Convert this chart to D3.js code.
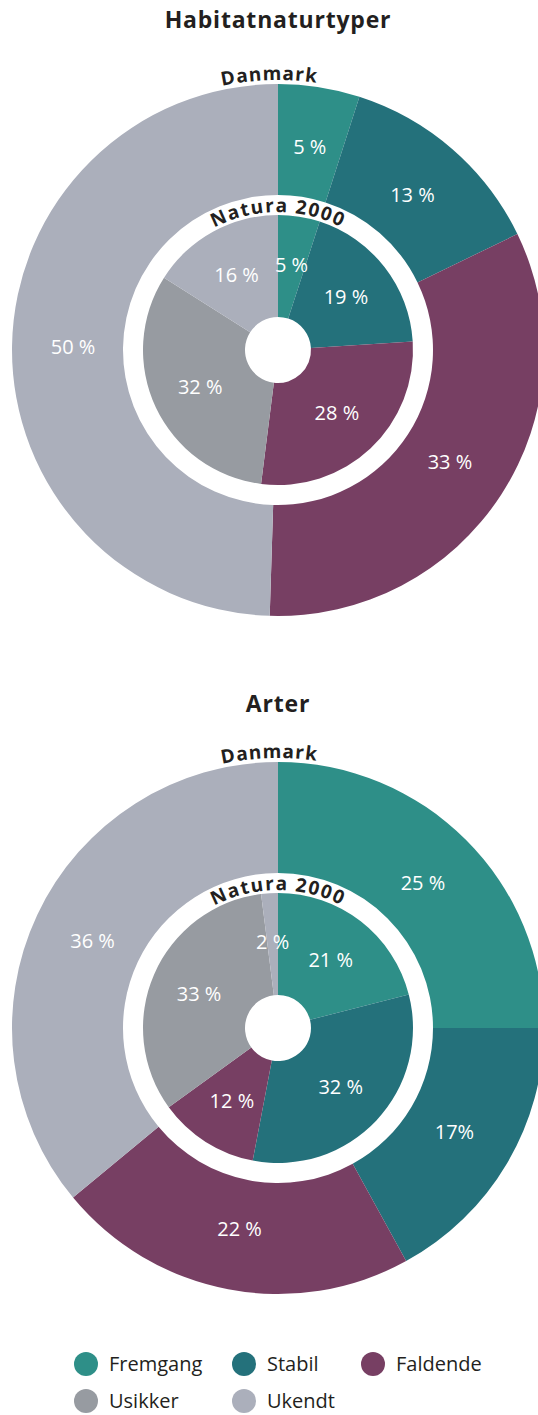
<!DOCTYPE html>
<meta charset="utf-8">
<script src="https://cdn.jsdelivr.net/npm/d3@7"></script>
<style>
  body { margin: 0; background: #fff; }
  text { font-family: "Open Sans", sans-serif; }
  .title { font-weight: 700; font-size: 23px; fill: #231f20; letter-spacing: 0.8px; }
  .ring-name { font-weight: 700; font-size: 19px; fill: #231f20; }
  .pct { fill: #fff; font-size: 20px; }
  .legend text { font-size: 20px; fill: #231f20; }
</style>

<div id="wrapper"></div>

<script>
  // categories + colours
  const categories = ["Fremgang", "Stabil", "Faldende", "Usikker", "Ukendt"];
  const catColors = ["#2e8f88", "#24717b", "#773f63", "#979ba1", "#abafbb"];

  // Habitatnaturtyper
  const habitatDkCats = ["Fremgang", "Stabil", "Faldende", "Ukendt"];
  const habitatDkValues = [5, 13, 33, 50];
  const habitatDkLabels = ["5 %", "13 %", "33 %", "50 %"];
  const habitatN2000Values = [5, 19, 28, 32, 16];
  const habitatN2000Labels = ["5 %", "19 %", "28 %", "32 %", "16 %"];

  // Arter
  const arterDkCats = ["Fremgang", "Stabil", "Faldende", "Ukendt"];
  const arterDkValues = [25, 17, 22, 36];
  const arterDkLabels = ["25 %", "17%", "22 %", "36 %"];
  const arterN2000Values = [21, 32, 12, 33, 2];
  const arterN2000Labels = ["21 %", "32 %", "12 %", "33 %", "2 %"];

  const width = 538, height = 1415;
  const rOuter = 266, rGap = 155, rInner = 135, rHole = 33;

  const color = d3.scaleOrdinal().domain(categories).range(catColors);

  const svg = d3.select("#wrapper")
    .append("svg")
    .attr("width", width)
    .attr("height", height);

  const pie = d3.pie().sort(null).value(d => d.value);

  function drawDonut(cx, cy, title, titleY, id, outerCats, outerVals, outerLabels, innerVals, innerLabels) {
    svg.append("text")
      .attr("class", "title")
      .attr("x", cx)
      .attr("y", titleY)
      .attr("text-anchor", "middle")
      .text(title);

    const g = svg.append("g").attr("transform", `translate(${cx},${cy})`);

    // outer ring (Danmark)
    const outerData = pie(outerCats.map((c, i) => ({ cat: c, value: outerVals[i], label: outerLabels[i] })));
    const outerArc = d3.arc().innerRadius(rGap).outerRadius(rOuter);
    g.append("g").selectAll("path")
      .data(outerData)
      .join("path")
      .attr("d", outerArc)
      .attr("fill", d => color(d.data.cat));

    // inner pie (Natura 2000)
    const innerData = pie(categories.map((c, i) => ({ cat: c, value: innerVals[i], label: innerLabels[i] })));
    const innerArc = d3.arc().innerRadius(rHole).outerRadius(rInner);
    g.append("g").selectAll("path")
      .data(innerData)
      .join("path")
      .attr("d", innerArc)
      .attr("fill", d => color(d.data.cat));

    // percent labels at slice centroids
    const outerLabelArc = d3.arc().innerRadius(205).outerRadius(205);
    const innerLabelArc = d3.arc().innerRadius(86).outerRadius(86);
    g.append("g").selectAll("text")
      .data(outerData)
      .join("text")
      .attr("class", "pct")
      .attr("transform", d => `translate(${outerLabelArc.centroid(d)})`)
      .attr("text-anchor", "middle")
      .attr("dy", "0.35em")
      .text(d => d.data.label);
    g.append("g").selectAll("text")
      .data(innerData)
      .join("text")
      .attr("class", "pct")
      .attr("transform", d => `translate(${innerLabelArc.centroid(d)})`)
      .attr("text-anchor", "middle")
      .attr("dy", "0.35em")
      .text(d => d.data.label);

    // curved ring names
    const rDk = 270, rN = 138;
    g.append("path")
      .attr("id", id + "-dk")
      .attr("fill", "none")
      .attr("d", `M${-rDk},0 A${rDk},${rDk} 0 0 1 ${rDk},0`);
    g.append("path")
      .attr("id", id + "-n")
      .attr("fill", "none")
      .attr("d", `M${-rN},0 A${rN},${rN} 0 0 1 ${rN},0`);

    g.append("text")
      .attr("class", "ring-name")
      .attr("letter-spacing", 1)
      .append("textPath")
      .attr("href", `#${id}-dk`)
      .attr("startOffset", "49%")
      .attr("text-anchor", "middle")
      .text("Danmark");
    g.append("text")
      .attr("class", "ring-name")
      .attr("letter-spacing", 1.5)
      .append("textPath")
      .attr("href", `#${id}-n`)
      .attr("startOffset", "50%")
      .attr("text-anchor", "middle")
      .text("Natura 2000");
  }

  drawDonut(278, 350, "Habitatnaturtyper", 28, "hab",
    habitatDkCats, habitatDkValues, habitatDkLabels, habitatN2000Values, habitatN2000Labels);
  drawDonut(278, 1028, "Arter", 712, "art",
    arterDkCats, arterDkValues, arterDkLabels, arterN2000Values, arterN2000Labels);

  // legend, 3 columns x 2 rows
  const legendCols = [86, 244, 373];
  const legendRows = [1364, 1401];
  const legend = svg.append("g").attr("class", "legend")
    .selectAll("g")
    .data(categories)
    .join("g")
    .attr("transform", (d, i) => `translate(${legendCols[i % 3]},${legendRows[Math.floor(i / 3)]})`);
  legend.append("circle")
    .attr("r", 12)
    .attr("fill", d => color(d));
  legend.append("text")
    .attr("x", 23)
    .attr("dy", "0.35em")
    .text(d => d);
</script>
